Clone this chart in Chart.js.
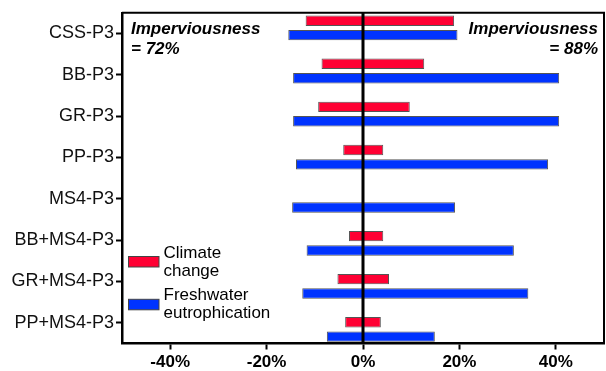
<!DOCTYPE html>
<html>
<head>
<meta charset="utf-8">
<script src="https://cdn.jsdelivr.net/npm/chart.js@4"></script>
<style>
  html, body { margin: 0; padding: 0; background: #fff; }
  #wrap { width: 606px; height: 371px; position: relative; }
</style>
</head>
<body>
<div id="wrap"><canvas id="c"></canvas></div>
<script>
// ---- data ----
const categories = ['CSS-P3', 'BB-P3', 'GR-P3', 'PP-P3', 'MS4-P3', 'BB+MS4-P3', 'GR+MS4-P3', 'PP+MS4-P3'];
const climateLow  = [-11.9, -8.6, -9.3, -4.1, null, -2.9, -5.3, -3.7];
const climateHigh = [ 18.9, 12.7,  9.7,  4.2, null,  4.2,  5.4,  3.7];
const eutroLow    = [-15.5, -14.5, -14.5, -13.9, -14.7, -11.7, -12.6, -7.5];
const eutroHigh   = [ 19.6,  40.7,  40.7,  38.4,  19.1,  31.3,  34.3, 14.9];
const xTicks = [-40, -20, 0, 20, 40];
const seriesNames = ['Climate change', 'Freshwater eutrophication'];
const legendLines = [['Climate', 'change'], ['Freshwater', 'eutrophication']];
const noteLeft = ['Imperviousness', '= 72%'];
const noteRight = ['Imperviousness', '= 88%'];

const RED = '#ff0033';
const BLUE = '#0033ff';
const FONT = "'Liberation Sans', Arial, sans-serif";

Chart.defaults.font.family = FONT;
Chart.defaults.color = '#000';

function toPoints(lo, hi) {
  return categories.map((c, i) => ({ y: i, x: (lo[i] == null ? null : [lo[i], hi[i]]) }));
}

const decor = {
  id: 'decor',
  afterDatasetsDraw(chart) {
    const ctx = chart.ctx;
    const a = chart.chartArea;
    const x0 = chart.scales.x.getPixelForValue(0);
    ctx.save();
    // zero line on top of the bars
    ctx.strokeStyle = '#000';
    ctx.lineWidth = 3;
    ctx.beginPath();
    ctx.moveTo(x0, a.top);
    ctx.lineTo(x0, a.bottom);
    ctx.stroke();
    // top and right frame
    ctx.lineWidth = 2;
    ctx.beginPath();
    ctx.moveTo(a.left, a.top);
    ctx.lineTo(a.right, a.top);
    ctx.lineTo(a.right, a.bottom);
    ctx.stroke();

    // notes
    ctx.fillStyle = '#000';
    ctx.font = "italic bold 17px " + FONT;
    ctx.textBaseline = 'alphabetic';
    ctx.textAlign = 'left';
    ctx.fillText(noteLeft[0], a.left + 9, a.top + 21);
    ctx.fillText(noteLeft[1], a.left + 9, a.top + 41);
    ctx.textAlign = 'right';
    ctx.fillText(noteRight[0], a.right - 6, a.top + 21);
    ctx.fillText(noteRight[1], a.right - 6, a.top + 41);

    // legend
    const colors = chart.data.datasets.map(d => d.backgroundColor);
    const boxX = a.left + 6.5, boxW = 30.5, boxH = 10.5;
    const boxTops = [256.5, 299.3];
    ctx.font = "17px " + FONT;
    ctx.textAlign = 'left';
    for (let k = 0; k < 2; k++) {
      ctx.fillStyle = colors[k];
      ctx.fillRect(boxX, boxTops[k], boxW, boxH);
      ctx.strokeStyle = '#444';
      ctx.lineWidth = 1;
      ctx.strokeRect(boxX, boxTops[k], boxW, boxH);
      ctx.fillStyle = '#000';
      ctx.fillText(legendLines[k][0], boxX + boxW + 4.5, boxTops[k] + 1);
      ctx.fillText(legendLines[k][1], boxX + boxW + 4.5, boxTops[k] + 19);
    }
    ctx.restore();
  }
};

new Chart(document.getElementById('c'), {
  type: 'bar',
  data: {
    labels: categories,
    datasets: [
      {
        label: seriesNames[0],
        data: toPoints(climateLow, climateHigh),
        backgroundColor: RED,
        borderColor: '#555',
        borderWidth: 1,
        borderSkipped: false,
        xAxisID: 'x',
        yAxisID: 'yb',
        categoryPercentage: 0.67,
        barPercentage: 0.72
      },
      {
        label: seriesNames[1],
        data: toPoints(eutroLow, eutroHigh),
        backgroundColor: BLUE,
        borderColor: '#555',
        borderWidth: 1,
        borderSkipped: false,
        xAxisID: 'x',
        yAxisID: 'yb',
        categoryPercentage: 0.67,
        barPercentage: 0.72
      }
    ]
  },
  options: {
    indexAxis: 'y',
    responsive: true,
    maintainAspectRatio: false,
    animation: false,
    layout: { padding: { top: 11, right: 2, left: 0, bottom: 0 } },
    plugins: { legend: { display: false }, tooltip: { enabled: false } },
    scales: {
      x: {
        type: 'linear',
        position: 'bottom',
        min: -50,
        max: 50,
        afterBuildTicks: (s) => { s.ticks = xTicks.map(v => ({ value: v })); },
        afterFit: (s) => { s.height = 27.5; },
        border: { display: true, color: '#000', width: 2.5 },
        grid: { drawOnChartArea: false, drawTicks: true, tickLength: 6, tickWidth: 2, tickColor: '#000' },
        ticks: {
          padding: 3,
          font: { size: 17, weight: 'bold' },
          color: '#000',
          callback: (v) => v + '%'
        }
      },
      y: {
        type: 'category',
        labels: categories,
        position: 'left',
        offset: true,
        afterFit: (s) => { s.width = 122; },
        border: { display: true, color: '#000', width: 2.5 },
        grid: { offset: false, drawOnChartArea: false, drawTicks: true, tickLength: 6, tickWidth: 2, tickColor: '#000' },
        ticks: { padding: 2, font: { size: 18 }, color: '#111', autoSkip: false }
      },
      yb: {
        type: 'linear',
        axis: 'y',
        position: 'left',
        display: false,
        reverse: true,
        offset: false,
        min: -0.352,
        max: 7.327,
        ticks: { stepSize: 1, includeBounds: false }
      }
    }
  },
  plugins: [decor]
});
</script>
</body>
</html>
